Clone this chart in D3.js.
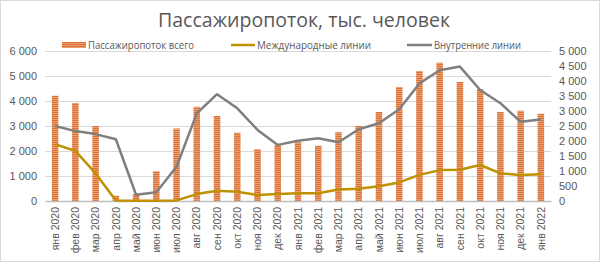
<!DOCTYPE html>
<html>
<head>
<meta charset="utf-8">
<script src="https://cdn.jsdelivr.net/npm/d3@7"></script>
<style>
  body { margin: 0; background: #fff; }
  svg { display: block; font-family: "Open Sans", "Noto Sans", sans-serif; }
</style>
</head>
<body>
<svg id="chart" width="600" height="262"></svg>
<script>
// months on the x axis
const months = ['янв 2020', 'фев 2020', 'мар 2020', 'апр 2020', 'май 2020', 'июн 2020',
  'июл 2020', 'авг 2020', 'сен 2020', 'окт 2020', 'ноя 2020', 'дек 2020',
  'янв 2021', 'фев 2021', 'мар 2021', 'апр 2021', 'май 2021', 'июн 2021',
  'июл 2021', 'авг 2021', 'сен 2021', 'окт 2021', 'ноя 2021', 'дек 2021', 'янв 2022'];

// total passengers (left axis), thousands
const totalFlow = [4210, 3920, 3000, 210, 280, 1190, 2900, 3770, 3400, 2730, 2070, 2240,
  2350, 2210, 2750, 3000, 3560, 4560, 5200, 5530, 4760, 4480, 3560, 3610, 3490];

// international lines (right axis)
const intlFlow = [1890, 1670, 920, 20, 5, 5, 20, 230, 340, 310, 200, 230,
  260, 260, 380, 410, 490, 620, 870, 1030, 1040, 1200, 920, 870, 890];

// domestic lines (right axis)
const domFlow = [2500, 2330, 2230, 2060, 210, 290, 1140, 2920, 3560, 3090, 2370, 1870,
  2010, 2090, 1960, 2390, 2590, 3060, 3920, 4360, 4480, 3700, 3260, 2640, 2720];

const leftTicks = [0, 1000, 2000, 3000, 4000, 5000, 6000];
const rightTicks = [0, 500, 1000, 1500, 2000, 2500, 3000, 3500, 4000, 4500, 5000];

const svg = d3.select('#chart');
const textColor = '#595959';
const fmt = d => d3.format(',')(d).replace(/,/g, ' ');

// chart border
svg.append('rect')
  .attr('x', 0.5).attr('y', 0.5)
  .attr('width', 599).attr('height', 261)
  .attr('fill', '#fff').attr('stroke', '#d9d9d9');

// striped fill for the bars
const defs = svg.append('defs');
const pat = defs.append('pattern')
  .attr('id', 'stripes')
  .attr('patternUnits', 'userSpaceOnUse')
  .attr('width', 8).attr('height', 2);
pat.append('rect').attr('width', 8).attr('height', 2).attr('fill', '#EC9F6C');
pat.append('rect').attr('width', 8).attr('height', 1).attr('fill', '#D9733A');

const x = d3.scaleBand().domain(months).range([45, 551]);
const yL = d3.scaleLinear().domain([0, 6000]).range([201, 51]);
const yR = d3.scaleLinear().domain([0, 5000]).range([201, 51]);

// gridlines
svg.append('g')
  .selectAll('line')
  .data(leftTicks.slice(1))
  .join('line')
  .attr('x1', 45).attr('x2', 551)
  .attr('y1', d => yL(d) + 0.5).attr('y2', d => yL(d) + 0.5)
  .attr('stroke', '#d9d9d9');

// left axis
const gl = svg.append('g')
  .attr('transform', 'translate(37,0)')
  .call(d3.axisLeft(yL).tickValues(leftTicks).tickFormat(fmt).tickSize(0).tickPadding(0));
gl.select('.domain').remove();
gl.selectAll('text').attr('fill', textColor).style('font-size', '11px');

// right axis
const gr = svg.append('g')
  .attr('transform', 'translate(559,0)')
  .call(d3.axisRight(yR).tickValues(rightTicks).tickFormat(fmt).tickSize(0).tickPadding(0));
gr.select('.domain').remove();
gr.selectAll('text').attr('fill', textColor).style('font-size', '11px');

// bars
const bw = 6.5;
svg.append('g')
  .selectAll('rect')
  .data(totalFlow)
  .join('rect')
  .attr('x', (d, i) => x(months[i]) + x.bandwidth() / 2 - bw / 2)
  .attr('y', d => yL(d))
  .attr('width', bw)
  .attr('height', d => yL(0) - yL(d))
  .attr('fill', 'url(#stripes)');

// x axis
const gx = svg.append('g')
  .attr('transform', 'translate(0,201)')
  .call(d3.axisBottom(x).tickSize(0).tickPadding(0));
gx.select('.domain').attr('stroke', '#bfbfbf').attr('stroke-width', 1.3);
gx.selectAll('text')
  .attr('fill', textColor)
  .style('font-size', '10.5px')
  .attr('text-anchor', 'end')
  .attr('transform', 'rotate(-90)')
  .attr('x', -6)
  .attr('y', 0)
  .attr('dy', '0.35em');

// lines
const lineGen = d3.line()
  .x((d, i) => x(months[i]) + x.bandwidth() / 2)
  .y(d => yR(d));

svg.append('path')
  .datum(domFlow)
  .attr('d', lineGen)
  .attr('fill', 'none')
  .attr('stroke', '#7F7F7F')
  .attr('stroke-width', 2.5)
  .attr('stroke-linejoin', 'round');

svg.append('path')
  .datum(intlFlow)
  .attr('d', lineGen)
  .attr('fill', 'none')
  .attr('stroke', '#BF9000')
  .attr('stroke-width', 2.5)
  .attr('stroke-linejoin', 'round');

// title
svg.append('text')
  .attr('x', 304).attr('y', 27)
  .attr('text-anchor', 'middle')
  .attr('fill', textColor)
  .style('font-size', '20px')
  .attr('textLength', 292)
  .attr('lengthAdjust', 'spacingAndGlyphs')
  .text('Пассажиропоток, тыс. человек');

// legend
const lg = svg.append('g').style('font-size', '11px');
lg.append('rect')
  .attr('x', 62).attr('y', 42).attr('width', 24).attr('height', 6)
  .attr('fill', 'url(#stripes)');
lg.append('text').attr('x', 88).attr('y', 49).attr('fill', textColor)
  .attr('textLength', 106).attr('lengthAdjust', 'spacingAndGlyphs')
  .text('Пассажиропоток всего');

lg.append('line')
  .attr('x1', 231).attr('x2', 255).attr('y1', 45).attr('y2', 45)
  .attr('stroke', '#BF9000').attr('stroke-width', 2.5);
lg.append('text').attr('x', 257).attr('y', 49).attr('fill', textColor)
  .attr('textLength', 114).attr('lengthAdjust', 'spacingAndGlyphs')
  .text('Международные линии');

lg.append('line')
  .attr('x1', 407).attr('x2', 432).attr('y1', 45).attr('y2', 45)
  .attr('stroke', '#7F7F7F').attr('stroke-width', 2.5);
lg.append('text').attr('x', 434).attr('y', 49).attr('fill', textColor)
  .attr('textLength', 87).attr('lengthAdjust', 'spacingAndGlyphs')
  .text('Внутренние линии');
</script>
</body>
</html>
